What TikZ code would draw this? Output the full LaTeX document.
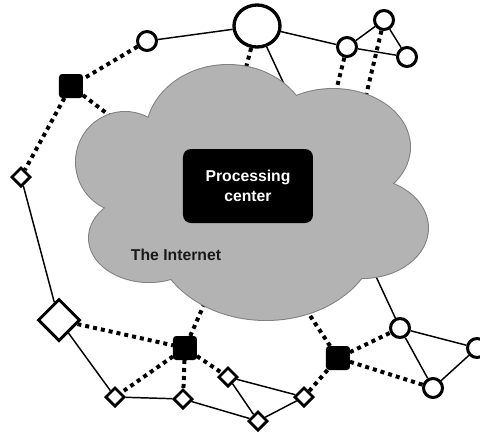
\documentclass[tikz,border=0pt]{standalone}
\usepackage{fontspec}
\setmainfont{Liberation Sans}
\usetikzlibrary{shapes.geometric}
\definecolor{cloudgray}{HTML}{B3B3B3}

\begin{document}
\begin{tikzpicture}[x=0.75pt,y=-0.75pt,
  solidlink/.style={line width=1.1pt,black},
  dotlink/.style={line width=3pt,black,dash pattern=on 3pt off 3pt},
  hostc/.style={circle,draw,line width=2.25pt,fill=white,minimum size=14.25pt,inner sep=0pt},
  bighost/.style={ellipse,draw,line width=2.5pt,fill=white,minimum width=34.5pt,minimum height=31.5pt,inner sep=0pt},
  hub/.style={rectangle,draw,fill=black,rounded corners=2pt,minimum size=17pt,line width=1pt,inner sep=0pt},
  term/.style={diamond,draw,fill=white,line width=2pt,minimum size=14.5pt,inner sep=0pt},
  bigterm/.style={diamond,draw,fill=white,line width=2.25pt,minimum size=31.5pt,inner sep=0pt},
  cloudedge/.style={draw=black!50,line width=1.5pt,fill=cloudgray},
  cloudbody/.style={fill=cloudgray},
  centerbox/.style={rectangle,fill=black,rounded corners=6pt,minimum width=97.5pt,minimum height=55.5pt,
    text=white,align=center,font=\fontsize{11.8}{15}\selectfont\bfseries},
  cloudlabel/.style={text=black!90,font=\fontsize{11.8}{14}\selectfont\bfseries}
]
\useasboundingbox (0,0) rectangle (480,436);

% hosts on the top
\node[hostc]   (c1) at (147,41) {};
\node[bighost] (c2) at (257,26) {};
\node[hostc]   (c3) at (347,47) {};
\node[hostc]   (c4) at (384,20) {};
\node[hostc]   (c5) at (407,57) {};
% hosts at the lower right
\node[hostc]   (c6) at (400,328) {};
\node[hostc]   (c7) at (477,348) {};
\node[hostc]   (c8) at (433,388) {};
% hubs
\node[hub] (s1) at (71,86) {};
\node[hub] (s2) at (185,348) {};
\node[hub] (s3) at (338,358) {};
% terminals
\node[term]    (d1) at (21,177) {};
\node[bigterm] (d2) at (59,320) {};
\node[term]    (d3) at (115,397) {};
\node[term]    (d4) at (183,399) {};
\node[term]    (d5) at (228,377) {};
\node[term]    (d6) at (304,397) {};
\node[term]    (d7) at (258,421) {};

% attachment points on the cloud rim
\coordinate (ks1)  at (118,122);
\coordinate (kc2a) at (244,75);
\coordinate (kc2b) at (290,97);
\coordinate (kc3)  at (335,95);
\coordinate (kc4)  at (365,100);
\coordinate (ks2)  at (206,300);
\coordinate (ks3)  at (305,308);
\coordinate (kc6)  at (372,268);

% plain links
\draw[solidlink] (c1) -- (c2);
\draw[solidlink] (c2) -- (c3);
\draw[solidlink] (c3) -- (c4);
\draw[solidlink] (c3) -- (c5);
\draw[solidlink] (c4) -- (c5);
\draw[solidlink] (c2) -- (kc2b);
\draw[solidlink] (d1) -- (d2);
\draw[solidlink] (d2) -- (d3);
\draw[solidlink] (d3) -- (d4);
\draw[solidlink] (d4) -- (d7);
\draw[solidlink] (d5) -- (d7);
\draw[solidlink] (d5) -- (d6);
\draw[solidlink] (d7) -- (d6);
\draw[solidlink] (kc6) -- (c6);
\draw[solidlink] (c6) -- (c7);
\draw[solidlink] (c6) -- (c8);
\draw[solidlink] (c8) -- (c7);

% dotted links
\draw[dotlink] (c1) -- (s1);
\draw[dotlink] (s1) -- (ks1);
\draw[dotlink] (s1) -- (d1);
\draw[dotlink] (c2) -- (kc2a);
\draw[dotlink] (c3) -- (kc3);
\draw[dotlink] (c4) -- (kc4);
\draw[dotlink] (d2) -- (s2);
\draw[dotlink] (s2) -- (ks2);
\draw[dotlink] (s2) -- (d3);
\draw[dotlink] (s2) -- (d4);
\draw[dotlink] (s2) -- (d5);
\draw[dotlink] (s3) -- (ks3);
\draw[dotlink] (s3) -- (d6);
\draw[dotlink] (s3) -- (c6);
\draw[dotlink] (s3) -- (c8);

% the cloud: outlined lobes, then their fills over the inner outlines
\def\lobes{228/135/82/70, 333/147/77/58, 362/228/66/50, 266/232/112/88, 149/238/60/44, 125/162/49/50}
\foreach \cx/\cy/\rx/\ry in \lobes
  \path[cloudedge] (\cx,\cy) ellipse[x radius=\rx,y radius=\ry];
\foreach \cx/\cy/\rx/\ry in \lobes
  \path[cloudbody] (\cx,\cy) ellipse[x radius=\rx,y radius=\ry];
% core of the cloud, closing the gap between the lobes
\path[cloudbody] (230,200) ellipse[x radius=100,y radius=60];

\node[centerbox] (pc) at (248,186) {Processing\\center};
\node[cloudlabel] (net) at (176,255) {The Internet};
\end{tikzpicture}
\end{document}
